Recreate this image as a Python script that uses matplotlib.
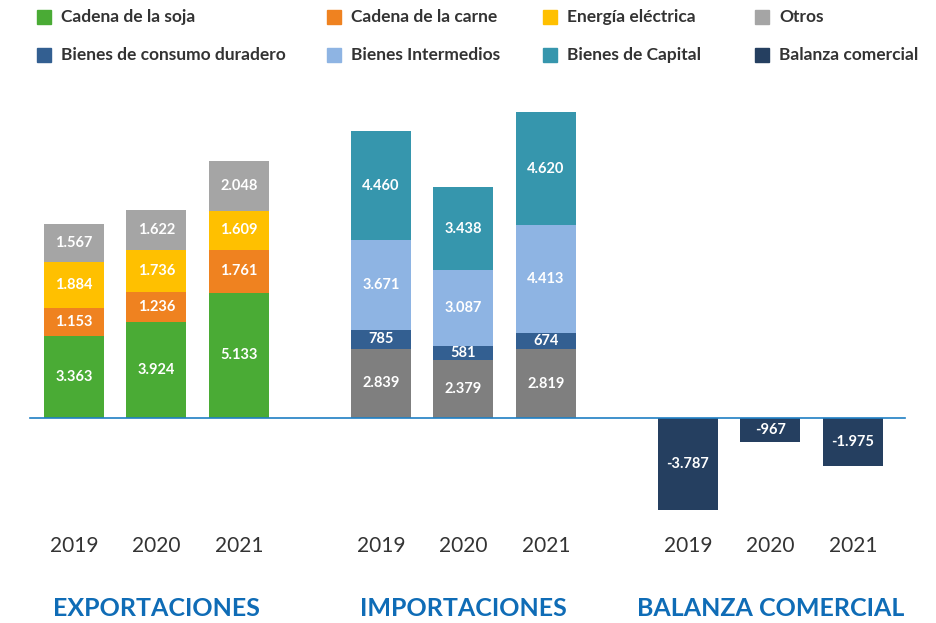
import matplotlib
matplotlib.use("Agg")
import matplotlib.pyplot as plt
import numpy as np
from matplotlib.patches import Rectangle

plt.rcParams['font.family'] = ['Lato', 'DejaVu Sans']

# data
years = ['2019', '2020', '2021']
groups = ['EXPORTACIONES', 'IMPORTACIONES', 'BALANZA COMERCIAL']

soja = [3363, 3924, 5133]
carne = [1153, 1236, 1761]
energia = [1884, 1736, 1609]
otros = [1567, 1622, 2048]

imp_otros = [2839, 2379, 2819]
consumo = [785, 581, 674]
intermedios = [3671, 3087, 4413]
capital = [4460, 3438, 4620]

balanza = [-3787, -967, -1975]

legend_labels = ['Cadena de la soja', 'Cadena de la carne', 'Energía eléctrica', 'Otros',
                 'Bienes de consumo duradero', 'Bienes Intermedios', 'Bienes de Capital', 'Balanza comercial']

c_soja, c_carne, c_energia, c_otros = '#4aab35', '#ef8220', '#ffc000', '#a5a5a5'
c_consumo, c_inter, c_capital, c_bal = '#335f91', '#8eb4e3', '#3696ad', '#253f60'
c_impotros = '#7f7f7f'
legend_colors = [c_soja, c_carne, c_energia, c_otros, c_consumo, c_inter, c_capital, c_bal]

W, H = 937, 623
fig = plt.figure(figsize=(W / 100, H / 100), dpi=100)
ax = fig.add_axes([0, 0, 1, 1])
ax.axis('off')

# scale: baseline at pixel row 418
base_px = 418
k = 0.0244
ax.set_xlim(0, W)
ax.set_ylim(-(H - base_px) / k, base_px / k)

def fig_xy(x, y):
    return x / W, 1 - y / H

def fmt(v):
    return f"{v:,}".replace(",", ".")

group_x = [74, 381, 688]
step = 82.5
bw = 60

def stack(gi, series, colors):
    bottom = np.zeros(3)
    for vals, col in zip(series, colors):
        vals = np.array(vals)
        xs = [group_x[gi] + i * step for i in range(3)]
        ax.bar(xs, vals, bw, bottom=bottom, color=col, edgecolor='none', zorder=2)
        for x, b, v in zip(xs, bottom, vals):
            ax.text(x, b + v / 2, fmt(int(v)), ha='center', va='center', color='white',
                    fontsize=10.5, fontweight='bold', zorder=3)
        bottom = bottom + vals

stack(0, [soja, carne, energia, otros], [c_soja, c_carne, c_energia, c_otros])
stack(1, [imp_otros, consumo, intermedios, capital], [c_impotros, c_consumo, c_inter, c_capital])
stack(2, [balanza], [c_bal])

ax.plot([30, 905], [0, 0], color='#1f7fc4', lw=1.2, zorder=4)

# year labels and group titles
for gi, g in enumerate(groups):
    for i, y in enumerate(years):
        fx, fy = fig_xy(group_x[gi] + i * step, 546)
        fig.text(fx, fy, y, ha='center', va='center', fontsize=15, color='#333333')
    fx, fy = fig_xy(group_x[gi] + step, 609)
    fig.text(fx, fy, g, ha='center', va='center', fontsize=18, fontweight='bold', color='#0f6cb6')

# legend
col_x = [37, 327, 543, 755]
row_y = [17, 55]
for j, (lab, col) in enumerate(zip(legend_labels, legend_colors)):
    r, c = divmod(j, 4)
    x0, y0 = col_x[c], row_y[r]
    fx, fy = fig_xy(x0, y0 + 7)
    fig.patches.append(Rectangle((fx, fy), 14 / W, 14 / H, transform=fig.transFigure,
                                 color=col, figure=fig))
    tx, ty = fig_xy(x0 + 24, y0)
    fig.text(tx, ty, lab, ha='left', va='center', fontsize=12.5, fontweight='bold', color='#333333')

plt.savefig('out.png', dpi=100)
